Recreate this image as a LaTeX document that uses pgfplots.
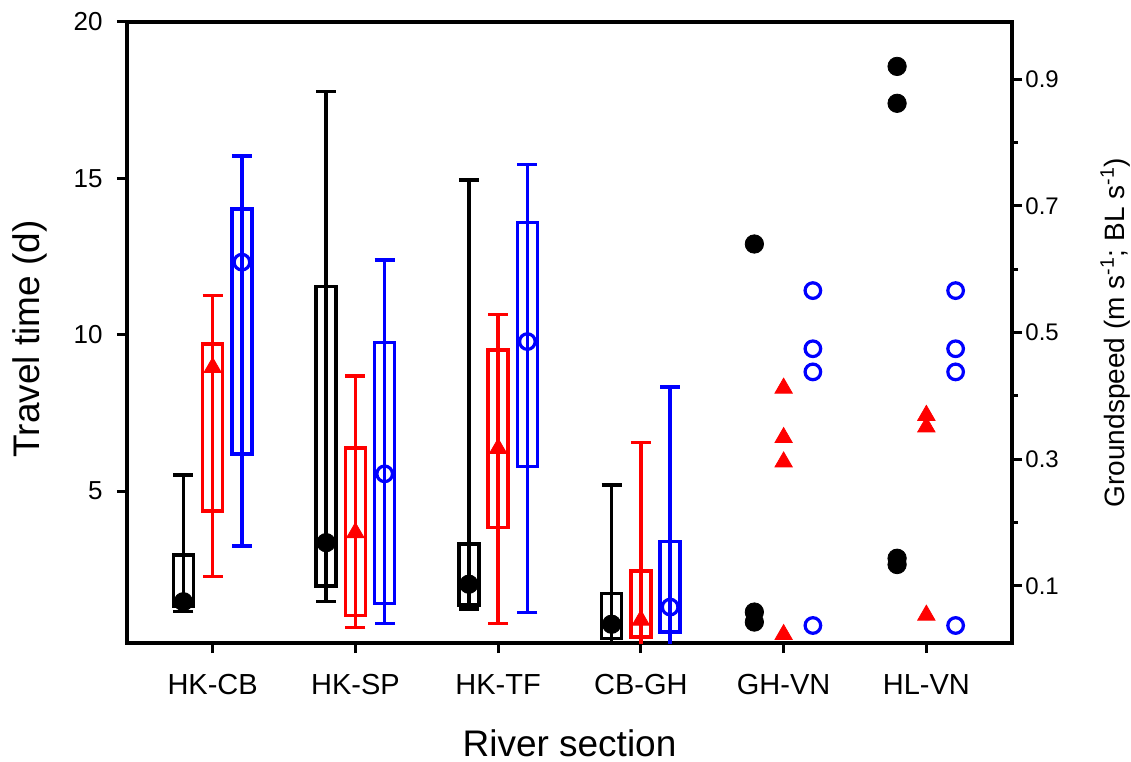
\documentclass[border=0pt]{standalone}
\usepackage{fontspec}
\setmainfont{Liberation Sans}
\usepackage{pgfplots}
\pgfplotsset{compat=1.18}
\usepgfplotslibrary{statistics}

% box only: draw position, lower quartile, upper quartile
\pgfplotsset{
  tbox/.style n args={3}{boxplot prepared={draw direction=y, draw position=#1,
      lower whisker=#2, lower quartile=#2, median=#2,
      upper quartile=#3, upper whisker=#3,
      box extend=0.14, whisker extend=0}},
  % whisker from lower to upper end, given as centre +- half length
  whisk/.style={draw=none, mark=none,
    error bars/.cd, y dir=both, y explicit,
    error mark=|, error mark options={draw=#1, mark size=5pt, line width=1.75pt},
    error bar style={draw=#1, line width=1.75pt}},
  frame/.style={
    scale only axis, width=442.5pt, height=310.5pt,
    xmin=-0.6, xmax=5.6,
    tick align=outside, major tick length=5pt, minor tick length=3pt,
    every tick/.style={black, line width=1.5pt},
    axis line style={line width=1.6pt},
  },
}

\begin{document}
\begin{tikzpicture}
\begin{axis}[
  frame, name=main,
  ymin=0.14, ymax=20,
  xtick={0,1,2,3,4,5},
  xticklabels={HK-CB,HK-SP,HK-TF,CB-GH,GH-VN,HL-VN},
  ytick={5,10,15,20},
  xtick pos=left, ytick pos=left,
  /pgf/number format/assume math mode=true,
  yticklabel style={font=\fontsize{13}{15}\selectfont, anchor=east, inner sep=0pt, xshift=-7pt},
  xticklabel style={font=\fontsize{14.5}{17}\selectfont, anchor=base, yshift=-20.5pt},
  xlabel={River section}, ylabel={Travel time (d)},
  label style={font=\fontsize{18.5}{22}\selectfont},
  xlabel style={at={(axis description cs:0.5,-0.182)}, anchor=base},
  ylabel style={at={(axis description cs:-0.13,0.49)}, anchor=north, inner sep=0pt},
]
% boxes: lower and upper quartile
\addplot[black, line width=1.75pt, tbox={-0.205}{1.30}{2.95}] coordinates {};
\addplot[red,   line width=1.75pt, tbox={0}{4.36}{9.70}] coordinates {};
\addplot[blue,  line width=1.75pt, tbox={0.205}{6.18}{14.02}] coordinates {};
\addplot[black, line width=1.75pt, tbox={0.795}{1.97}{11.54}] coordinates {};
\addplot[red,   line width=1.75pt, tbox={1}{1.02}{6.38}] coordinates {};
\addplot[blue,  line width=1.75pt, tbox={1.205}{1.40}{9.75}] coordinates {};
\addplot[black, line width=1.75pt, tbox={1.795}{1.36}{3.31}] coordinates {};
\addplot[red,   line width=1.75pt, tbox={2}{3.83}{9.51}] coordinates {};
\addplot[blue,  line width=1.75pt, tbox={2.205}{5.78}{13.58}] coordinates {};
\addplot[black, line width=1.75pt, tbox={2.795}{0.29}{1.73}] coordinates {};
\addplot[red,   line width=1.75pt, tbox={3}{0.34}{2.45}] coordinates {};
\addplot[blue,  line width=1.75pt, tbox={3.205}{0.50}{3.38}] coordinates {};

% whiskers through the boxes (CB-GH ones run below the axis)
\addplot[whisk=black] coordinates {
  (-0.205,3.33)  +- (0,2.19)
  (0.795,9.625)  +- (0,8.155)
  (1.795,8.08)   +- (0,6.86)
  (2.795,2.595)  +- (0,2.595)
};
\addplot[whisk=red] coordinates {
  (0,6.755) +- (0,4.495)
  (1,4.66)  +- (0,4.02)
  (2,5.705) +- (0,4.935)
  (3,3.275) +- (0,3.275)
};
\addplot[whisk=blue] coordinates {
  (0.205,9.48)  +- (0,6.24)
  (1.205,6.575) +- (0,5.815)
  (2.205,8.28)  +- (0,7.17)
  (3.205,4.165) +- (0,4.165)
};

% centre values and single fish
\addplot[only marks, mark=*, mark size=4.6pt, black] coordinates {
  (-0.205,1.46) (0.795,3.35) (1.795,2.02) (2.795,0.74)
  (3.795,12.90) (3.795,1.13) (3.795,0.81)
  (4.795,18.58) (4.795,17.40) (4.795,2.85) (4.795,2.65)
};
\addplot[only marks, mark=triangle*, mark size=5pt, red] coordinates {
  (0,8.95) (1,3.67) (2,6.36) (3,0.87)
  (4,8.29) (4,6.71) (4,5.93) (4,0.41)
  (5,7.42) (5,7.05) (5,1.03)
};
\addplot[only marks, mark=o, mark size=3.9pt, blue, line width=1.6pt] coordinates {
  (0.205,12.32) (1.205,5.55) (2.205,9.78) (3.205,1.29)
  (4.205,11.41) (4.205,9.55) (4.205,8.81) (4.205,0.70)
  (5.205,11.41) (5.205,9.55) (5.205,8.81) (5.205,0.70)
};
\end{axis}

\begin{axis}[
  frame,
  ymin=0.01, ymax=0.99,
  axis x line=none, axis y line*=right,
  ytick={0.1,0.3,0.5,0.7,0.9},
  yticklabels={0.1,0.3,0.5,0.7,0.9},
  minor ytick={0.2,0.4,0.6,0.8},
  yticklabel style={font=\fontsize{12}{14}\selectfont, anchor=west, inner sep=0pt, xshift=1.5pt},
  ylabel={Groundspeed (m s\textsuperscript{-1}; BL s\textsuperscript{-1})},
  ylabel style={font=\fontsize{14}{16}\selectfont, at={(axis description cs:1.0994,0.5)}, anchor=north, inner sep=0pt},
]
\end{axis}

\pgfresetboundingbox
\path ([shift={(-63.5pt,-59pt)}]main.south west) rectangle ([shift={(59.5pt,11pt)}]main.north east);
\end{tikzpicture}
\end{document}
